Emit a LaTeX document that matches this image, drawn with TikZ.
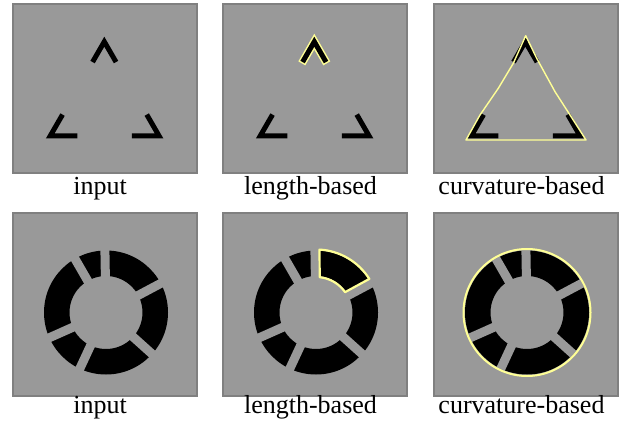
\documentclass[tikz,border=0pt]{standalone}
\usepackage{fontspec}
\setmainfont{Liberation Serif}
\usetikzlibrary{calc}
\definecolor{panelgray}{RGB}{153,153,153}
\definecolor{framegray}{RGB}{128,128,128}
\definecolor{contouryellow}{RGB}{255,255,150}

% three corners of the illusory triangle
\newcommand{\threecorners}[1]{%
  \draw[#1] ($(top)+(240:21)$) -- (top) -- ($(top)+(300:21)$);
  \draw[#1] ($(left)+(60:22)$) -- (left) -- ($(left)+(0:24.5)$);
  \draw[#1] ($(right)+(120:22)$) -- (right) -- ($(right)+(180:24.7)$);
}
% ring cut into six pieces
\newcommand{\brokenring}{%
  \fill[black, even odd rule] (0,0) circle[radius=62] (0,0) circle[radius=36.5];
  \foreach \a in {28,91,120,204,245,318} \draw[gap] (0,0) -- (\a:68);
}

\begin{document}
\begin{tikzpicture}[
  x=1pt, y=1pt,
  panel/.style={fill=panelgray, draw=framegray, line width=1.5pt},
  corner/.style={draw=black, line width=5pt, line cap=rect, line join=miter},
  halo/.style={draw=contouryellow, line width=8pt, line cap=rect, line join=miter},
  contour/.style={draw=contouryellow, line width=1.4pt, line join=round},
  gap/.style={draw=panelgray, line width=9pt},
  caption/.style={anchor=base, inner sep=0pt, font=\fontsize{26}{30}\selectfont},
]
\useasboundingbox (0,0) rectangle (631,423);

% Panels
\foreach \px in {0,210,421}{
  \draw[panel] (13+\px,250) rectangle (197+\px,419);
  \draw[panel] (13+\px,27) rectangle (197+\px,210);
}

% Captions
\foreach \px/\cx/\lbl in {0/100/input, 210/310.5/length-based, 421/521.5/curvature-based}{
  \node[caption] (captop\px) at (\cx,228) {\lbl};
  \node[caption] (capbot\px) at (\cx,10) {\lbl};
}

% Corner points of panel 1
\coordinate (top) at (104.3,381.3);
\coordinate (left) at (50.3,287.2);
\coordinate (right) at (159,287.2);

% Top row: input
\threecorners{corner}

% Top row: length-based
\begin{scope}[shift={(210,0)}]
  \coordinate (top) at (104.3,381.3);
  \coordinate (left) at (50.3,287.2);
  \coordinate (right) at (159,287.2);
  \draw[halo] ($(top)+(240:21)$) -- (top) -- ($(top)+(300:21)$);
  \threecorners{corner}
\end{scope}

% Top row: curvature-based
\begin{scope}[shift={(421,0)}]
  \coordinate (top) at (104.3,381.3);
  \coordinate (left) at (50.3,287.2);
  \coordinate (right) at (159,287.2);
  \threecorners{corner}
  \draw[contour] (104.7,387.3) -- (92.3,359.7) -- (77.3,334.7) -- (59,308) -- (45,283)
    -- (165,283) -- (149,308) -- (134,331.3) -- (115.7,364.7) -- cycle;
\end{scope}

% Bottom row: input
\begin{scope}[shift={(106,110.5)}]
  \brokenring
\end{scope}

% Bottom row: length-based
\begin{scope}[shift={(316,110.5)}]
  \brokenring
  \draw[contour, line width=2.2pt] (32.2:63) arc[start angle=32.2, end angle=86.8, radius=63]
    -- (84:35.5) arc[start angle=84, end angle=35, radius=35.5] -- cycle;
\end{scope}

% Bottom row: curvature-based
\begin{scope}[shift={(527,110.5)}]
  \brokenring
  \draw[contour, line width=2pt] (0,0) circle[radius=63.5];
\end{scope}
\end{tikzpicture}
\end{document}
